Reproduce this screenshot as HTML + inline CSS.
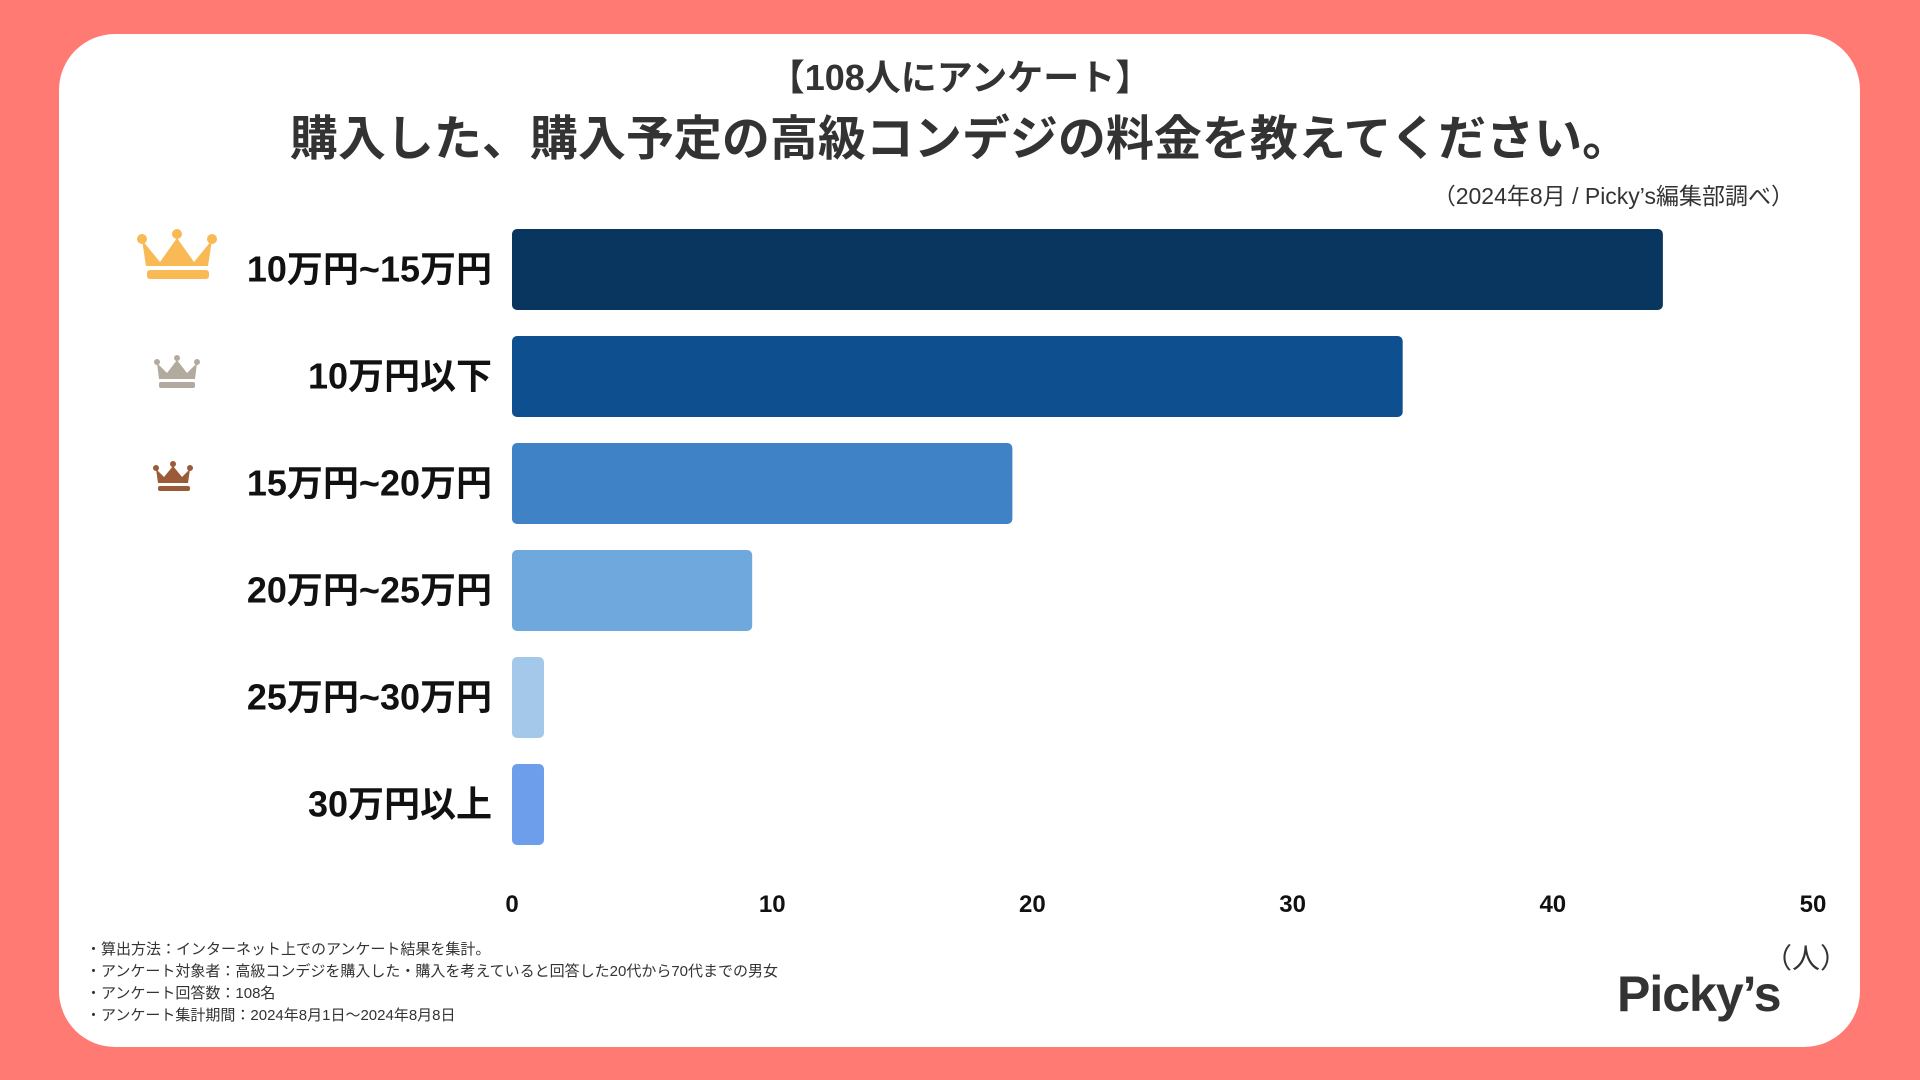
<!DOCTYPE html>
<html><head><meta charset="utf-8">
<style>
html,body{margin:0;padding:0;}
body{width:1920px;height:1080px;background:#ff7a73;position:relative;overflow:hidden;font-family:"Liberation Sans","Noto Sans CJK JP",sans-serif;}
#card{position:absolute;left:59px;top:34px;width:1801px;height:1013px;background:#fff;border-radius:56px;}
.t{position:absolute;white-space:nowrap;color:#222;}
</style></head><body>
<div id="card"></div>
<div class="t" style="left:0;width:1920px;text-align:center;top:49px;font-size:36px;font-weight:bold;color:#333;">【108人にアンケート】</div>
<div class="t" style="left:0;width:1920px;text-align:center;top:99px;font-size:48px;font-weight:bold;color:#333;">購入した、購入予定の高級コンデジの料金を教えてください。</div>
<div class="t" style="right:126px;top:177px;font-size:23px;color:#333;">（2024年8月 / Picky’s編集部調べ）</div>
<svg id="chart" width="1920" height="1080" style="position:absolute;left:0;top:0;">
<g id="crowns">
<g fill="#f9b955">
<path d="M142 240 L160 262 L177 238 L194 262 L212 240 L208 266 L146 266 Z"/>
<circle cx="142" cy="239" r="5"/><circle cx="177" cy="234" r="5"/><circle cx="212" cy="239" r="5"/>
<rect x="147" y="270" width="62" height="9" rx="3"/>
</g>
<g fill="#b3aa9f">
<path d="M157 363 L167 373 L177 360 L187 373 L197 363 L195 379 L159 379 Z"/>
<circle cx="157" cy="362" r="3"/><circle cx="177" cy="358" r="3"/><circle cx="197" cy="362" r="3"/>
<rect x="159" y="382" width="36" height="6" rx="2"/>
</g>
<g fill="#9a5b36">
<path d="M156 469 L164 477 L173 466 L182 477 L190 469 L188 483 L158 483 Z"/>
<circle cx="156" cy="468" r="3"/><circle cx="173" cy="464" r="3"/><circle cx="190" cy="468" r="3"/>
<rect x="158" y="486" width="32" height="5" rx="2"/>
</g>
</g>
</svg>
<div class="t" style="left:1764px;top:937px;font-size:28px;color:#333;">（人）</div>
<div class="t" style="left:1617px;top:965px;font-size:50px;font-weight:bold;color:#333;letter-spacing:-1px;">Picky’s</div>
<div class="t" style="left:86px;top:939px;font-size:15px;line-height:22px;color:#333;">
・算出方法：インターネット上でのアンケート結果を集計。<br>
・アンケート対象者：高級コンデジを購入した・購入を考えていると回答した20代から70代までの男女<br>
・アンケート回答数：108名<br>
・アンケート集計期間：2024年8月1日〜2024年8月8日</div>
<script>
const categories = ["10万円~15万円","10万円以下","15万円~20万円","20万円~25万円","25万円~30万円","30万円以上"];
const values = [44,34,19,9,1,1];
const ticks = [0,10,20,30,40,50];
const colors = ["#08365f","#0e4f8f","#3f82c6","#6fa8dc","#a4c8ea","#6d9eeb"];
const NS="http://www.w3.org/2000/svg";
const svg=document.getElementById('chart');
const x0=512,x1=1813,vmax=50;
function xs(v){return x0+(x1-x0)*v/vmax;}
const top0=229,step=107,bh=81;
function yb(i){return top0+i*step;}
categories.forEach((c,i)=>{
  const r=document.createElementNS(NS,'rect');
  r.setAttribute('x',x0);r.setAttribute('y',yb(i));
  r.setAttribute('width',Math.max(xs(values[i])-x0+6,0));r.setAttribute('height',bh);
  r.setAttribute('rx',5);r.setAttribute('fill',colors[i]);
  
  
  svg.appendChild(r);
  const t=document.createElementNS(NS,'text');
  t.setAttribute('x',492);t.setAttribute('y',yb(i)+bh/2+12);
  t.setAttribute('text-anchor','end');t.setAttribute('font-size','36');t.setAttribute('font-weight','bold');
  t.setAttribute('fill','#111');t.setAttribute('font-family','"Liberation Sans","Noto Sans CJK JP",sans-serif');
  t.textContent=c;
  
  
  svg.appendChild(t);
});
ticks.forEach(v=>{
  const t=document.createElementNS(NS,'text');
  t.setAttribute('x',xs(v));t.setAttribute('y',912);t.setAttribute('text-anchor','middle');
  t.setAttribute('font-size','24');t.setAttribute('font-weight','bold');t.setAttribute('fill','#111');
  t.setAttribute('font-family','"Liberation Sans Narrow","Liberation Sans",sans-serif');
  t.textContent=v;
  
  
  svg.appendChild(t);
});
</script>
</body></html>
